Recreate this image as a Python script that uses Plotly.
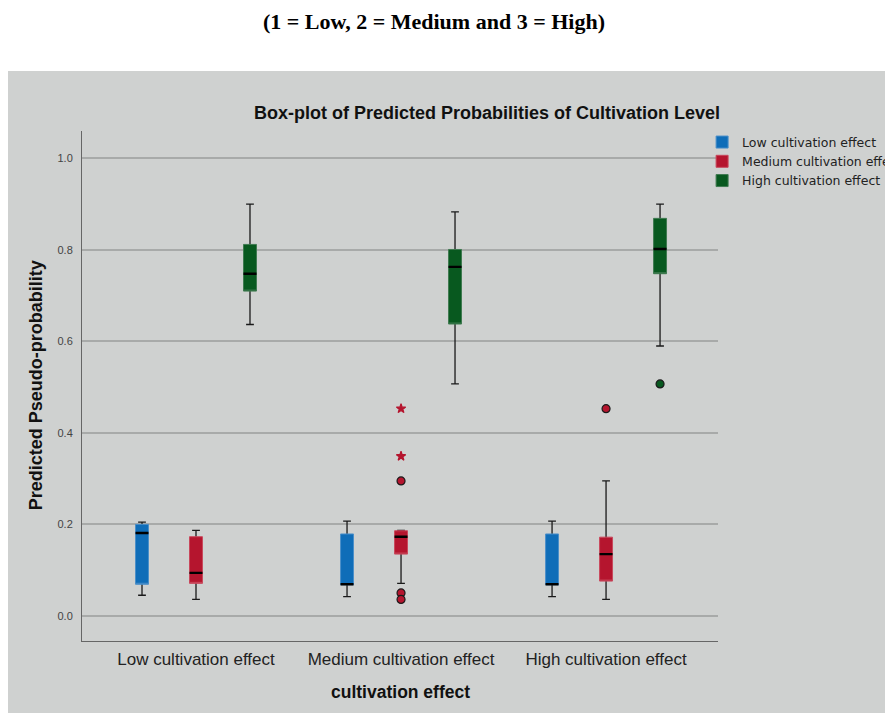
import plotly.graph_objects as go

# ---------------- data ----------------
categories = ["Low cultivation effect", "Medium cultivation effect", "High cultivation effect"]
series_names = ["Low cultivation effect", "Medium cultivation effect", "High cultivation effect"]

# Low cultivation effect probability (blue)
low_lower = [0.045, 0.042, 0.042]
low_q1 = [0.069, 0.068, 0.068]
low_median = [0.181, 0.069, 0.069]
low_q3 = [0.200, 0.179, 0.179]
low_upper = [0.205, 0.207, 0.207]

# Medium cultivation effect probability (red)
med_lower = [0.036, 0.071, 0.036]
med_q1 = [0.071, 0.135, 0.076]
med_median = [0.094, 0.173, 0.135]
med_q3 = [0.173, 0.186, 0.172]
med_upper = [0.187, 0.187, 0.295]

# High cultivation effect probability (green)
high_lower = [0.637, 0.507, 0.590]
high_q1 = [0.710, 0.638, 0.748]
high_median = [0.748, 0.763, 0.802]
high_q3 = [0.812, 0.801, 0.869]
high_upper = [0.900, 0.883, 0.900]

# outliers
low_out_cat = []
low_out_val = []
low_out_kind = []
med_out_cat = ["Medium cultivation effect"] * 5 + ["High cultivation effect"]
med_out_val = [0.295, 0.349, 0.453, 0.050, 0.036, 0.453]
med_out_kind = ["circle", "star", "star", "circle", "circle", "circle"]
high_out_cat = ["High cultivation effect"]
high_out_val = [0.507]
high_out_kind = ["circle"]

y_ticks = [0.0, 0.2, 0.4, 0.6, 0.8, 1.0]

# ---------------- styles ----------------
fills = ["#0f6db8", "#b5152e", "#08591f"]
edges = ["#4b8fc9", "#c9485c", "#3f7a50"]
BG = "#cfd1d0"

stats = [
    (low_lower, low_q1, low_median, low_q3, low_upper, low_out_cat, low_out_val, low_out_kind),
    (med_lower, med_q1, med_median, med_q3, med_upper, med_out_cat, med_out_val, med_out_kind),
    (high_lower, high_q1, high_median, high_q3, high_upper, high_out_cat, high_out_val, high_out_kind),
]

fig = go.Figure()
for i, (lo, q1, md, q3, hi, oc, ov, ok) in enumerate(stats):
    g = "g%d" % i
    # whiskers (bottom layer)
    fig.add_trace(go.Box(
        x=categories, q1=md, median=md, q3=md, lowerfence=lo, upperfence=hi,
        offsetgroup=g, alignmentgroup="a", showlegend=False, legendgroup=g,
        line=dict(color="#1a1a1a", width=1.3), fillcolor="rgba(0,0,0,0)",
        whiskerwidth=0.6, boxpoints=False, hoverinfo="skip",
    ))
    # coloured box
    fig.add_trace(go.Box(
        x=categories, q1=q1, median=q1, q3=q3, lowerfence=q1, upperfence=q3,
        name=series_names[i], offsetgroup=g, alignmentgroup="a", legendgroup=g,
        line=dict(color=edges[i], width=1), fillcolor=fills[i],
        whiskerwidth=0, boxpoints=False,
    ))
    # median line
    fig.add_trace(go.Box(
        x=categories, q1=md, median=md, q3=md, lowerfence=md, upperfence=md,
        offsetgroup=g, alignmentgroup="a", showlegend=False, legendgroup=g,
        line=dict(color="#000000", width=2.4), fillcolor="rgba(0,0,0,0)",
        whiskerwidth=0, boxpoints=False, hoverinfo="skip",
    ))
    # outliers
    fig.add_trace(go.Scatter(
        x=oc if oc else [categories[0]], y=ov if ov else [None],
        mode="markers", offsetgroup=g, alignmentgroup="a",
        showlegend=False, legendgroup=g, opacity=1,
        marker=dict(
            symbol=ok if ok else ["circle"],
            size=[8 if k == "circle" else 7 for k in ok] if ok else [8],
            color=fills[i], opacity=1,
            line=dict(color=["#1a1a1a" if k == "circle" else fills[i] for k in ok] if ok else ["#1a1a1a"], width=1.2),
        ),
    ))

fig.update_layout(
    width=893, height=713,
    paper_bgcolor="white", plot_bgcolor=BG,
    margin=dict(l=74, r=183, t=123, b=80, autoexpand=False),
    boxmode="group", boxgap=0.21, boxgroupgap=0.76,
    scattermode="group", scattergap=0.21,
    font=dict(family="Liberation Sans, Arial, sans-serif", color="#222"),
    showlegend=True,
    legend=dict(
        x=0.975, y=1.007, xanchor="left", yanchor="top",
        bgcolor="rgba(0,0,0,0)",
        font=dict(family="DejaVu Sans, Liberation Sans, sans-serif", size=12.5, color="#222"),
        itemwidth=30, tracegroupgap=0,
    ),
    shapes=[dict(
        type="rect", xref="paper", yref="paper",
        x0=-0.3, x1=1.4, y0=-0.3, y1=1.1176,
        fillcolor=BG, line=dict(width=0), layer="below",
    )],
    annotations=[
        dict(text="<b>(1 = Low, 2 = Medium and 3 = High)</b>", xref="paper", yref="paper",
             x=0.553, y=1.214, xanchor="center", yanchor="middle", showarrow=False,
             font=dict(family="Liberation Serif, Times New Roman, serif", size=22, color="black")),
        dict(text="<b>Box-plot of Predicted Probabilities of Cultivation Level</b>", xref="paper", yref="paper",
             x=0.637, y=1.035, xanchor="center", yanchor="middle", showarrow=False,
             font=dict(size=18, color="#111")),
        dict(text="<b>Predicted Pseudo-probability</b>", xref="paper", yref="paper",
             x=-0.072, y=0.502, xanchor="center", yanchor="middle", showarrow=False, textangle=-90,
             font=dict(size=18, color="#111")),
        dict(text="<b>cultivation effect</b>", xref="paper", yref="paper",
             x=0.5, y=-0.1, xanchor="center", yanchor="middle", showarrow=False,
             font=dict(size=17.5, color="#111")),
    ],
)

fig.update_xaxes(
    type="category", categoryorder="array", categoryarray=categories,
    range=[-0.556, 2.546], showgrid=False, zeroline=False,
    showline=True, linecolor="#666", linewidth=1,
    ticks="", tickfont=dict(size=17, color="#222"), ticklabelstandoff=3,
)
fig.update_yaxes(
    range=[-0.055, 1.06], tickvals=y_ticks, tickformat=".1f",
    showgrid=True, gridcolor="#a8aaa9", gridwidth=1.5, zeroline=False,
    showline=True, linecolor="#666", linewidth=1,
    ticks="", tickfont=dict(size=11, color="#444"), ticklabelstandoff=6,
)

fig.write_html("out.html")
